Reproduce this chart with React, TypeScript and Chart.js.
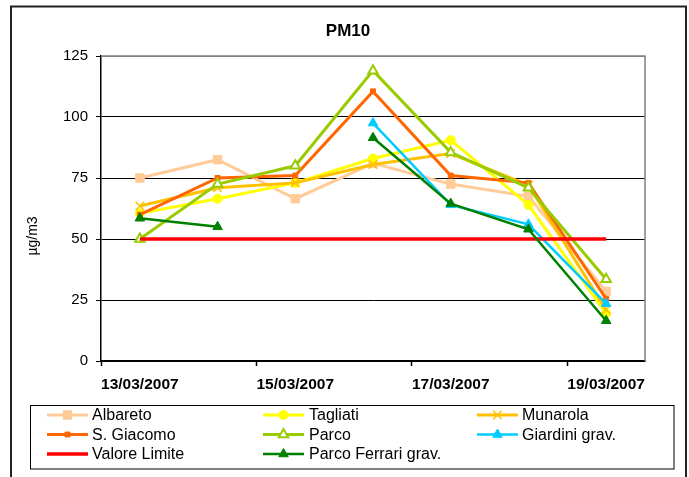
import React, { useEffect, useRef } from "react";
import { Chart, registerables } from "chart.js";

Chart.register(...registerables);

const categories = ["13/03/2007", "14/03/2007", "15/03/2007", "16/03/2007", "17/03/2007", "18/03/2007", "19/03/2007"];
const albareto = [75, 82.5, 66.5, 81, 72.5, 67.5, 28.5];
const tagliati = [60.5, 66.5, 73, 83, 90.5, 64, 19.5];
const munarola = [63.5, 71, 73, 80.5, 85, 72, 21];
const sGiacomo = [60, 75, 76, 110.5, 76, 73, 25.5];
const parco = [50, 72.5, 80, 119, 85.5, 71, 33.5];
const giardini = [null, null, null, 97.5, 64, 56, 23.5];
const valoreLimite = [50, 50, 50, 50, 50, 50, 50];
const parcoFerrari = [58.5, 55, null, 91.5, 64.5, 54, 16.5];
const yTicks = [0, 25, 50, 75, 100, 125];

const FONT = '"Liberation Sans", Arial, sans-serif';

type S = { label: string; data: (number | null)[]; color: string; style: string | false; r: number; fill: string; lw: number; pbw: number };

const series: S[] = [
  { label: "Albareto", data: albareto, color: "#FFCC99", style: "rect", r: 6, fill: "#FFCC99", lw: 3, pbw: 1 },
  { label: "Tagliati", data: tagliati, color: "#FFFF00", style: "circle", r: 4.5, fill: "#FFFF00", lw: 3, pbw: 1 },
  { label: "Munarola", data: munarola, color: "#FFC000", style: "crossRot", r: 6, fill: "#FFC000", lw: 3, pbw: 1.5 },
  { label: "S. Giacomo", data: sGiacomo, color: "#FF6600", style: "rect", r: 3.5, fill: "#FF6600", lw: 3, pbw: 1 },
  { label: "Parco", data: parco, color: "#99CC00", style: "triangle", r: 5.5, fill: "#FFFFFF", lw: 3, pbw: 2 },
  { label: "Giardini grav.", data: giardini, color: "#00CCFF", style: "triangle", r: 5.5, fill: "#00CCFF", lw: 2.5, pbw: 1 },
  { label: "Valore Limite", data: valoreLimite, color: "#FF0000", style: false, r: 0, fill: "#FF0000", lw: 3.5, pbw: 1 },
  { label: "Parco Ferrari grav.", data: parcoFerrari, color: "#008000", style: "triangle", r: 5.5, fill: "#008000", lw: 2.5, pbw: 1 },
];

function drawMarker(ctx: CanvasRenderingContext2D, s: S, x: number, y: number) {
  if (!s.style) return;
  const r = s.r;
  ctx.save();
  ctx.fillStyle = s.fill;
  ctx.strokeStyle = s.color;
  ctx.lineWidth = s.pbw;
  ctx.beginPath();
  if (s.style === "rect") {
    const h = r * Math.SQRT1_2;
    ctx.rect(x - h, y - h, 2 * h, 2 * h);
    ctx.fill();
    ctx.stroke();
  } else if (s.style === "circle") {
    ctx.arc(x, y, r, 0, Math.PI * 2);
    ctx.fill();
    ctx.stroke();
  } else if (s.style === "crossRot") {
    const d = r * Math.SQRT1_2;
    ctx.moveTo(x - d, y - d);
    ctx.lineTo(x + d, y + d);
    ctx.moveTo(x - d, y + d);
    ctx.lineTo(x + d, y - d);
    ctx.stroke();
  } else if (s.style === "triangle") {
    for (let k = 0; k < 3; k++) {
      const a = -Math.PI / 2 + (k * 2 * Math.PI) / 3;
      const px = x + Math.cos(a) * r;
      const py = y + Math.sin(a) * r;
      if (k === 0) ctx.moveTo(px, py);
      else ctx.lineTo(px, py);
    }
    ctx.closePath();
    ctx.fill();
    ctx.stroke();
  }
  ctx.restore();
}

const decor = {
  id: "decor",
  beforeDraw(chart: any) {
    const ctx = chart.ctx as CanvasRenderingContext2D;
    ctx.save();
    ctx.fillStyle = "#fff";
    ctx.fillRect(0, 0, chart.width, chart.height);
    ctx.restore();
  },
  afterDraw(chart: any) {
    const ctx = chart.ctx as CanvasRenderingContext2D;
    const ca = chart.chartArea;
    ctx.save();
    // plot area top/right border
    ctx.strokeStyle = "#808080";
    ctx.lineWidth = 1.5;
    ctx.beginPath();
    ctx.moveTo(ca.left, ca.top);
    ctx.lineTo(ca.right, ca.top);
    ctx.lineTo(ca.right, ca.bottom);
    ctx.stroke();

    // outer border
    ctx.strokeStyle = "#222";
    ctx.lineWidth = 2;
    ctx.beginPath();
    ctx.moveTo(11, chart.height + 5);
    ctx.lineTo(11, 6.5);
    ctx.lineTo(686, 6.5);
    ctx.lineTo(686, chart.height + 5);
    ctx.stroke();

    // title
    ctx.fillStyle = "#000";
    ctx.font = `bold 17px ${FONT}`;
    ctx.textAlign = "center";
    ctx.textBaseline = "middle";
    ctx.fillText("PM10", 348, 31);

    // y axis title
    ctx.save();
    ctx.translate(33, 236);
    ctx.rotate(-Math.PI / 2);
    ctx.font = `14px ${FONT}`;
    ctx.fillText("µg/m3", 0, 0);
    ctx.restore();

    // legend
    ctx.strokeStyle = "#000";
    ctx.lineWidth = 1;
    ctx.strokeRect(30.5, 405.5, 643.5, 63.5);
    const colLine = [47, 263, 477];
    const colText = [92, 309, 522];
    const rowY = [415, 434.5, 454];
    ctx.font = `16px ${FONT}`;
    ctx.textAlign = "left";
    ctx.textBaseline = "middle";
    series.forEach((s, i) => {
      const c = i % 3;
      const r = Math.floor(i / 3);
      const x0 = colLine[c];
      const y = rowY[r];
      ctx.strokeStyle = s.color;
      ctx.lineWidth = s.lw;
      ctx.beginPath();
      ctx.moveTo(x0, y);
      ctx.lineTo(x0 + 41, y);
      ctx.stroke();
      drawMarker(ctx, s, x0 + 20.5, y);
      ctx.fillStyle = "#000";
      ctx.fillText(s.label, colText[c], y + 1);
    });
    ctx.restore();
  },
};

export default function App() {
  const ref = useRef<HTMLCanvasElement | null>(null);
  useEffect(() => {
    if (!ref.current) return;
    const n = series.length;
    const chart = new Chart(ref.current, {
      type: "line",
      data: {
        labels: categories,
        datasets: series.map((s, i) => ({
          label: s.label,
          data: s.data,
          borderColor: s.color,
          backgroundColor: s.fill,
          borderWidth: s.lw,
          pointStyle: s.style as any,
          pointRadius: s.r,
          pointBackgroundColor: s.fill,
          pointBorderColor: s.color,
          pointBorderWidth: s.pbw,
          spanGaps: false,
          tension: 0,
          fill: false,
          order: n - i,
        })),
      },
      options: {
        responsive: false,
        animation: false,
        events: [],
        layout: { padding: { top: 56, left: 41, right: 44, bottom: 86 } },
        plugins: { legend: { display: false }, title: { display: false }, tooltip: { enabled: false } },
        scales: {
          x: {
            type: "category",
            offset: true,
            ticks: {
              autoSkip: false,
              maxRotation: 0,
              minRotation: 0,
              padding: 9,
              color: "#000",
              font: { family: FONT, size: 15.5, weight: "bold" },
              callback: (_v: any, i: number) => (i % 2 === 0 ? categories[i] : ""),
            },
            grid: {
              offset: true,
              drawOnChartArea: false,
              drawTicks: true,
              tickLength: 5,
              tickWidth: 1.5,
              tickColor: (ctx: any) => (ctx.index % 2 === 0 ? "#000" : "rgba(0,0,0,0)"),
            },
            border: { color: "#000", width: 1.5 },
            afterFit: (s: any) => {
              s.height = 30;
            },
          },
          y: {
            min: 0,
            max: 125,
            afterBuildTicks: (s: any) => {
              s.ticks = yTicks.map((v) => ({ value: v }));
            },
            ticks: {
              padding: 8,
              color: "#000",
              font: { family: FONT, size: 15 },
            },
            grid: {
              color: (ctx: any) => (ctx.tick && ctx.tick.value === 125 ? "#808080" : "#000"),
              lineWidth: 1,
              drawTicks: true,
              tickLength: 5,
              tickColor: "#000",
              tickWidth: 1,
            },
            border: { color: "#000", width: 1.5 },
            afterFit: (s: any) => {
              s.width = 60;
            },
          },
        },
      },
      plugins: [decor],
    });
    return () => chart.destroy();
  }, []);
  return (
    <div style={{ position: "fixed", left: 0, top: 0, width: 689, height: 477 }}>
      <canvas ref={ref} width={689} height={477} style={{ width: 689, height: 477, display: "block" }} />
    </div>
  );
}
